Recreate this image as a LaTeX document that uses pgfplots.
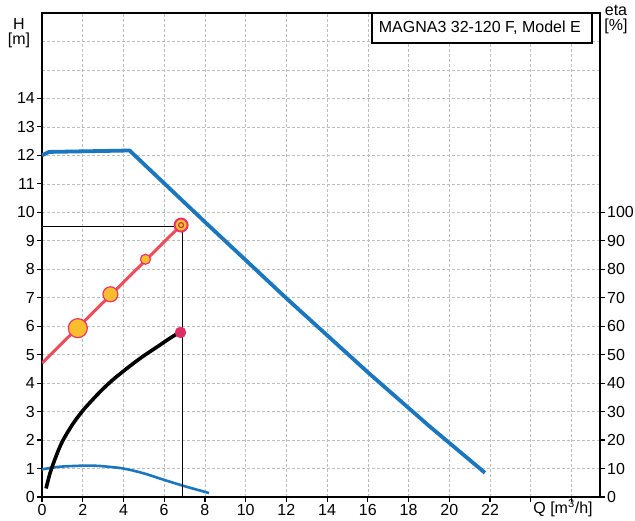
\documentclass[border=0pt]{standalone}
\usepackage{pgfplots}
\pgfplotsset{compat=1.18}
\usepackage{fontspec}
\setmainfont{Liberation Sans}

\definecolor{maxblue}{RGB}{26,118,190}
\definecolor{redline}{RGB}{240,76,88}
\definecolor{dotfill}{RGB}{250,190,45}
\definecolor{dotedge}{RGB}{232,52,105}
\definecolor{pinkdot}{RGB}{222,45,100}
\definecolor{gridc}{RGB}{190,190,190}

\begin{document}
\begin{tikzpicture}
\pgfplotsset{
  every axis/.append style={
    at={(0,0)}, anchor=south west,
    scale only axis, width=558pt, height=484pt,
    xmin=0, xmax=27.4,
    tick align=outside,
    major tick length=5pt,
    minor tick length=0pt,
    tick style={black, line width=1.2pt},
    font=\fontsize{16}{18}\selectfont,
    /pgf/number format/assume math mode=true,
    axis line style={black, line width=2pt},
  }
}
% H axis (left), Q axis (bottom)
\begin{axis}[
  ymin=0, ymax=17,
  xtick={0,2,...,26},
  xticklabels={0,2,4,6,8,10,12,14,16,18,20,22,{},{}},
  ytick={0,1,...,14},
  minor ytick={15,16},
  xtick pos=bottom, ytick pos=left,
  xmajorgrids, ymajorgrids, yminorgrids,
  grid style={gridc, dash pattern=on 3pt off 2pt, line width=0.6pt},
  minor grid style={gridc, dash pattern=on 3pt off 2pt, line width=0.6pt},
  xticklabel style={inner sep=1pt, yshift=-1pt},
  yticklabel style={inner sep=2pt},
]
% power curve (light)
\addplot[maxblue, line width=2.6pt, smooth] coordinates {
(0,0.97) (0.5,1.03) (1,1.07) (2,1.1) (2.5,1.1) (3,1.08) (4,1.0)
(5,0.83) (6,0.6) (7,0.38) (8.2,0.14)
};
% efficiency curve
\addplot[black, line width=3.6pt, smooth] coordinates {
(0.2,0.3) (0.4,0.85) (0.7,1.45) (1,1.95) (1.5,2.55) (2,3.03) (2.5,3.43)
(3,3.8) (3.5,4.13) (4,4.42) (4.5,4.7) (5,4.96) (5.5,5.2) (6,5.44)
(6.4,5.63) (6.75,5.78)
};
% max curve
\addplot[maxblue, line width=3.8pt, line join=round] coordinates {
(0,12.0) (0.35,12.12) (4.3,12.17) (8,9.66) (12,6.98) (16,4.38) (19,2.5) (21.75,0.85)
};
% duty point guides
\addplot[black, line width=1.1pt] coordinates {(0,9.5) (6.88,9.5)};
\addplot[black, line width=1.5pt] coordinates {(6.9,9.5) (6.9,0)};
% control curve
\addplot[redline, line width=3pt] coordinates {(0,4.7) (6.83,9.55)};
\addplot[only marks, mark=*, mark size=9.5pt, mark options={fill=dotfill, draw=dotedge, line width=1.2pt}] coordinates {(1.76,5.93)};
\addplot[only marks, mark=*, mark size=7.5pt, mark options={fill=dotfill, draw=dotedge, line width=1.2pt}] coordinates {(3.36,7.12)};
\addplot[only marks, mark=*, mark size=5pt, mark options={fill=dotfill, draw=dotedge, line width=1.2pt}] coordinates {(5.08,8.35)};
\addplot[only marks, mark=*, mark size=6.5pt, mark options={fill=dotfill, draw=dotedge, line width=2pt}] coordinates {(6.83,9.55)};
\addplot[only marks, mark=o, mark size=2.5pt, mark options={draw=redline!80!black, line width=1.2pt}] coordinates {(6.83,9.55)};
\addplot[only marks, mark=*, mark size=5.5pt, mark options={fill=pinkdot, draw=pinkdot}] coordinates {(6.8,5.78)};
% title box
\draw[black, line width=1.5pt, fill=white] (axis cs:16.2,17) rectangle (axis cs:27.0,15.95);
\node[font=\fontsize{16}{18}\selectfont] at (axis cs:21.5,16.47) {MAGNA3 32-120 F, Model E};
\end{axis}
% eta axis (right)
\begin{axis}[
  ymin=0, ymax=170,
  axis x line=none,
  axis y line*=right,
  ytick={0,10,...,100},
  yticklabel style={inner sep=2pt},
]
\addplot[draw=none] coordinates {(0,0)};
\end{axis}
\node[align=center, inner sep=0, font=\fontsize{16}{15}\selectfont] at (-23pt,464pt) {H\\{[m]}};
\node[align=center, inner sep=0, font=\fontsize{16}{15}\selectfont] at (574pt,478pt) {eta\\{[\%]}};
\node[inner sep=0, font=\fontsize{16}{18}\selectfont] at (521pt,-11pt) {Q [m\textsuperscript{3}/h]};
\pgfresetboundingbox
\path[use as bounding box] (-42pt,-24pt) rectangle (593pt,497pt);
\end{tikzpicture}
\end{document}
